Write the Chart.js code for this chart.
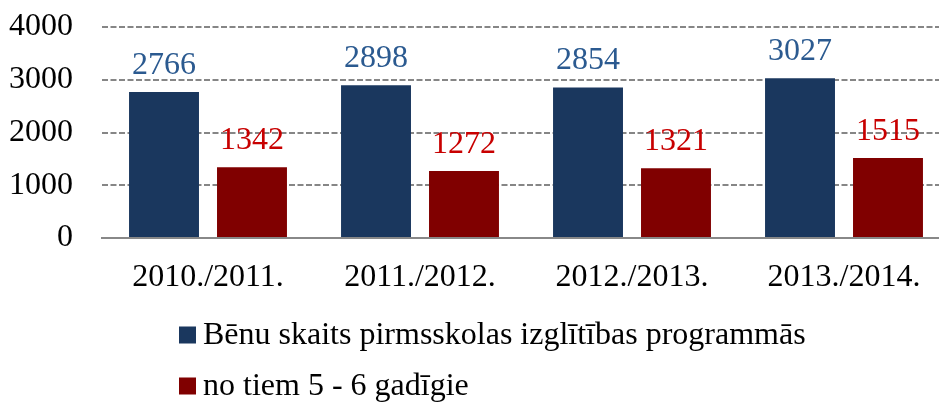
<!DOCTYPE html>
<html>
<head>
<meta charset="utf-8">
<script src="https://cdn.jsdelivr.net/npm/chart.js@4"></script>
<style>
html,body{margin:0;padding:0;background:#fff;overflow:hidden;}
#wrap{width:950px;height:403px;}
</style>
</head>
<body>
<div id="wrap"><canvas id="c" width="950" height="403"></canvas></div>
<script>
const categories = ["2010./2011.", "2011./2012.", "2012./2013.", "2013./2014."];
const totalChildren = [2766, 2898, 2854, 3027];
const aged5to6 = [1342, 1272, 1321, 1515];
const yTicks = [0, 1000, 2000, 3000, 4000];
const seriesNames = ["Bēnu skaits pirmsskolas izglītības programmās", "no tiem 5 - 6 gadīgie"];

const FONT = "'Liberation Serif', 'Times New Roman', serif";
const labelColors = ["#2B5A90", "#C80000"];

const valueLabels = {
  id: 'valueLabels',
  afterDatasetsDraw(chart) {
    const ctx = chart.ctx;
    ctx.save();
    ctx.font = "32px " + FONT;
    ctx.textAlign = 'center';
    ctx.textBaseline = 'alphabetic';
    chart.data.datasets.forEach((ds, i) => {
      const meta = chart.getDatasetMeta(i);
      ctx.fillStyle = labelColors[i];
      meta.data.forEach((bar, j) => {
        ctx.fillText(String(ds.data[j]), bar.x, bar.y - 18);
      });
    });
    ctx.restore();
  }
};

const customLegend = {
  id: 'customLegend',
  afterDraw(chart) {
    const ctx = chart.ctx;
    ctx.save();
    ctx.font = "32px " + FONT;
    ctx.textBaseline = 'middle';
    ctx.textAlign = 'left';
    const rows = [335, 386];
    chart.data.datasets.forEach((ds, i) => {
      const y = rows[i];
      ctx.fillStyle = ds.backgroundColor;
      ctx.fillRect(179, y - 8.5, 17, 17);
      ctx.fillStyle = "#000";
      ctx.fillText(ds.label, 203, y + 1);
    });
    ctx.restore();
  }
};

new Chart(document.getElementById('c'), {
  type: 'bar',
  data: {
    labels: categories,
    datasets: [
      { label: seriesNames[0], data: totalChildren, backgroundColor: "#1A375E", borderWidth: 0,
        categoryPercentage: 0.83, barPercentage: 0.795 },
      { label: seriesNames[1], data: aged5to6, backgroundColor: "#800000", borderWidth: 0,
        categoryPercentage: 0.83, barPercentage: 0.795 }
    ]
  },
  options: {
    responsive: false,
    animation: false,
    layout: { padding: { left: 0, right: 0, top: 27, bottom: 105 } },
    plugins: { legend: { display: false }, tooltip: { enabled: false } },
    scales: {
      x: {
        grid: { display: false, drawTicks: false },
        border: { display: true, color: "#888888", width: 2 },
        ticks: { color: "#000", font: { family: FONT, size: 32 }, padding: 20 },
        afterFit(s) { s.height = 60; s.paddingLeft = 0; s.paddingRight = 0; }
      },
      y: {
        min: 0, max: 4000,
        afterBuildTicks(s) { s.ticks = yTicks.map(v => ({ value: v })); },
        grid: {
          drawTicks: false,
          color: (c) => c.tick && c.tick.value === 0 ? 'rgba(0,0,0,0)' : "#868686",
          lineWidth: 2
        },
        border: { display: false, dash: [6, 2.5] },
        ticks: { color: "#000", font: { family: FONT, size: 32 }, padding: 29,
                 callback: (v) => String(v) },
        afterFit(s) { s.width = 102; s.paddingTop = 0; s.paddingBottom = 0; }
      }
    }
  },
  plugins: [valueLabels, customLegend]
});
</script>
</body>
</html>
